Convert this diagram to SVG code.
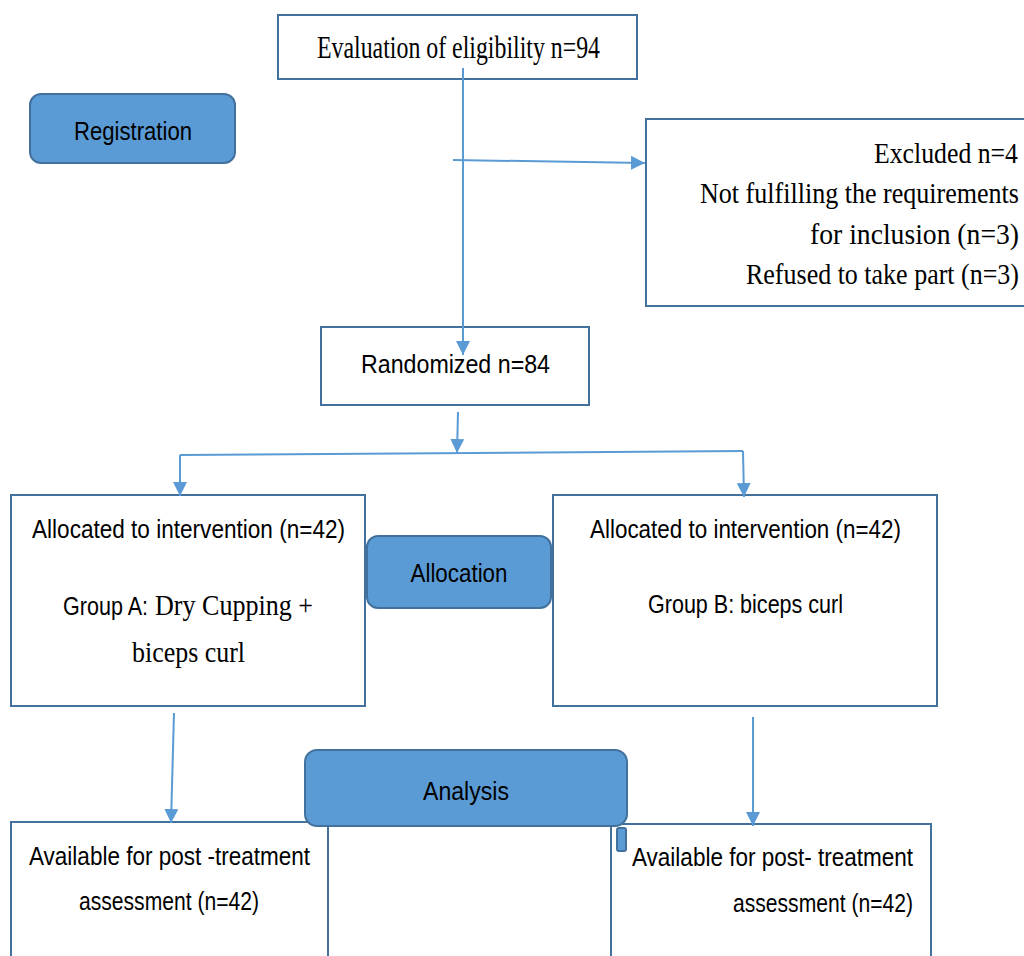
<svg xmlns="http://www.w3.org/2000/svg" width="1024" height="956" viewBox="0 0 1024 956">
<style>
.box{fill:#fff;stroke:#41719C;stroke-width:2}
.tag{fill:#5B9BD5;stroke:#41719C;stroke-width:2}
.con{stroke:#5B9BD5;stroke-width:2;fill:none}
.sans{font-family:"Liberation Sans",Arial,sans-serif;fill:#000}
.serif{font-family:"Liberation Serif","Times New Roman",serif;fill:#000}
</style>
<defs>
<marker id="ah" markerUnits="userSpaceOnUse" markerWidth="14" markerHeight="14" viewBox="0 0 14 14" refX="14" refY="7" orient="auto">
<path d="M0,0 L14,7 L0,14 Z" fill="#5B9BD5"/>
</marker>
</defs>
<rect width="1024" height="956" fill="#fff"/>

<g id="eligibility">
<rect class="box" x="278" y="15" width="359" height="64"/>
<text class="serif" x="317" y="58" font-size="32" textLength="283" lengthAdjust="spacingAndGlyphs">Evaluation of eligibility n=94</text>
</g>

<g id="registration">
<rect class="tag" x="30" y="94" width="205" height="69" rx="11"/>
<text class="sans" x="133" y="140" font-size="26" text-anchor="middle" textLength="118" lengthAdjust="spacingAndGlyphs">Registration</text>
</g>

<g id="excluded">
<rect class="box" x="646" y="119" width="390" height="187"/>
<text class="serif" font-size="30" text-anchor="end">
<tspan x="1018" y="163" textLength="144" lengthAdjust="spacingAndGlyphs">Excluded n=4</tspan>
</text>
<text class="serif" x="1019" y="203" font-size="30" text-anchor="end" textLength="319" lengthAdjust="spacingAndGlyphs">Not fulfilling the requirements</text>
<text class="serif" x="1019" y="244" font-size="30" text-anchor="end" textLength="209" lengthAdjust="spacingAndGlyphs">for inclusion (n=3)</text>
<text class="serif" x="1019" y="284" font-size="30" text-anchor="end" textLength="273" lengthAdjust="spacingAndGlyphs">Refused to take part (n=3)</text>
</g>

<g id="randomized">
<rect class="box" x="321" y="327" width="268" height="78"/>
<text class="sans" x="361" y="373" font-size="26" textLength="189" lengthAdjust="spacingAndGlyphs">Randomized n=84</text>
</g>

<g id="groupA">
<rect class="box" x="11" y="495" width="354" height="211"/>
<text class="sans" x="32" y="538" font-size="25" textLength="313" lengthAdjust="spacingAndGlyphs">Allocated to intervention (n=42)</text>
<text class="sans" x="63" y="615" font-size="25" textLength="85" lengthAdjust="spacingAndGlyphs">Group A:</text>
<text class="serif" x="155" y="615" font-size="30" textLength="158" lengthAdjust="spacingAndGlyphs">Dry Cupping +</text>
<text class="serif" x="132" y="662" font-size="30" textLength="113" lengthAdjust="spacingAndGlyphs">biceps curl</text>
</g>

<g id="allocation">
<rect class="tag" x="367" y="536" width="184" height="72" rx="11"/>
<text class="sans" x="459" y="582" font-size="25" text-anchor="middle" textLength="97" lengthAdjust="spacingAndGlyphs">Allocation</text>
</g>

<g id="groupB">
<rect class="box" x="553" y="495" width="384" height="211"/>
<text class="sans" x="590" y="538" font-size="25" textLength="311" lengthAdjust="spacingAndGlyphs">Allocated to intervention (n=42)</text>
<text class="sans" x="648" y="613" font-size="25" textLength="195" lengthAdjust="spacingAndGlyphs">Group B: biceps curl</text>
</g>

<g id="postA">
<rect class="box" x="11" y="822" width="317" height="150"/>
<text class="sans" x="29" y="865" font-size="25" textLength="281" lengthAdjust="spacingAndGlyphs">Available for post -treatment</text>
<text class="sans" x="79" y="910" font-size="25" textLength="180" lengthAdjust="spacingAndGlyphs">assessment (n=42)</text>
</g>

<g id="postB">
<rect class="box" x="611" y="824" width="320" height="150"/>
<rect class="tag" x="617" y="828" width="9" height="23" rx="2" stroke-width="1.5"/>
<text class="sans" x="632" y="866" font-size="25" textLength="281" lengthAdjust="spacingAndGlyphs">Available for post- treatment</text>
<text class="sans" x="913" y="912" font-size="25" text-anchor="end" textLength="180" lengthAdjust="spacingAndGlyphs">assessment (n=42)</text>
</g>

<g id="analysis">
<rect class="tag" x="305" y="750" width="322" height="76" rx="12"/>
<text class="sans" x="466" y="800" font-size="26" text-anchor="middle" textLength="86" lengthAdjust="spacingAndGlyphs">Analysis</text>
</g>

<g id="connectors">
<line class="con" x1="463" y1="68" x2="463" y2="355" marker-end="url(#ah)"/>
<line class="con" x1="453" y1="160" x2="645" y2="163" marker-end="url(#ah)"/>
<line class="con" x1="458" y1="412" x2="457" y2="453" marker-end="url(#ah)"/>
<line class="con" x1="180" y1="455" x2="743" y2="451" stroke-width="1.5"/>
<line class="con" x1="180" y1="455" x2="180" y2="496" marker-end="url(#ah)"/>
<line class="con" x1="743" y1="451" x2="744" y2="497" marker-end="url(#ah)"/>
<line class="con" x1="174" y1="713" x2="171" y2="823" marker-end="url(#ah)"/>
<line class="con" x1="753" y1="717" x2="753" y2="826" marker-end="url(#ah)"/>
</g>
</svg>
